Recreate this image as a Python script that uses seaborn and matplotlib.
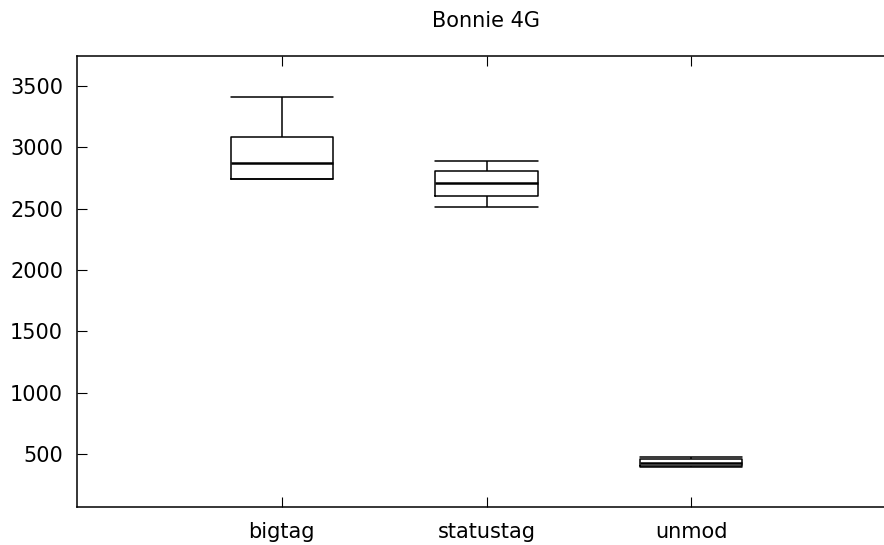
import numpy as np
import pandas as pd
import matplotlib
matplotlib.use("Agg")
import matplotlib.pyplot as plt
import seaborn as sns

categories = ["bigtag", "statustag", "unmod"]
mins = [2739, 2515, 398]
q1s = [2739, 2605, 402]
medians = [2870, 2711, 425]
q3s = [3082, 2811, 459]
maxs = [3412, 2893, 478]

rows = []
for c, a, b, m, d, e in zip(categories, mins, q1s, medians, q3s, maxs):
    for v in (a, b, m, d, e):
        rows.append({"run": c, "value": v})
df = pd.DataFrame(rows)

sns.set_style("white")
plt.rcParams["font.family"] = ["DejaVu Sans"]
plt.rcParams["text.color"] = "black"

W, H = 884, 545
fig = plt.figure(figsize=(W / 100, H / 100), dpi=100)
ax = fig.add_axes([77 / W, (H - 507) / H, (896 - 77) / W, (507 - 56) / H])

sns.boxplot(data=df, x="run", y="value", order=categories, whis=np.inf,
            fill=False, width=0.5, color="black", linecolor="black",
            linewidth=1.1,
            medianprops=dict(linewidth=1.8, color="black"),
            capwidths=0.5, ax=ax)

ax.set_xlim(-1, 3)
ax.set_ylim(68, 3745)
ax.set_yticks([500, 1000, 1500, 2000, 2500, 3000, 3500])
ax.set_xlabel("")
ax.set_ylabel("")
ax.set_title("Bonnie 4G", fontsize=15, pad=21, color="black")

for s in ["left", "top", "bottom"]:
    ax.spines[s].set_visible(True)
    ax.spines[s].set_color("black")
    ax.spines[s].set_linewidth(1.1)
ax.spines["right"].set_visible(False)

ax.tick_params(axis="x", direction="in", length=7.5, width=0.8, top=True,
               bottom=True, labelsize=15, pad=11, colors="black")
ax.tick_params(axis="y", direction="in", length=7.5, width=0.8, left=True,
               right=False, labelsize=15, pad=10, colors="black")

fig.savefig("out.png", dpi=100)
